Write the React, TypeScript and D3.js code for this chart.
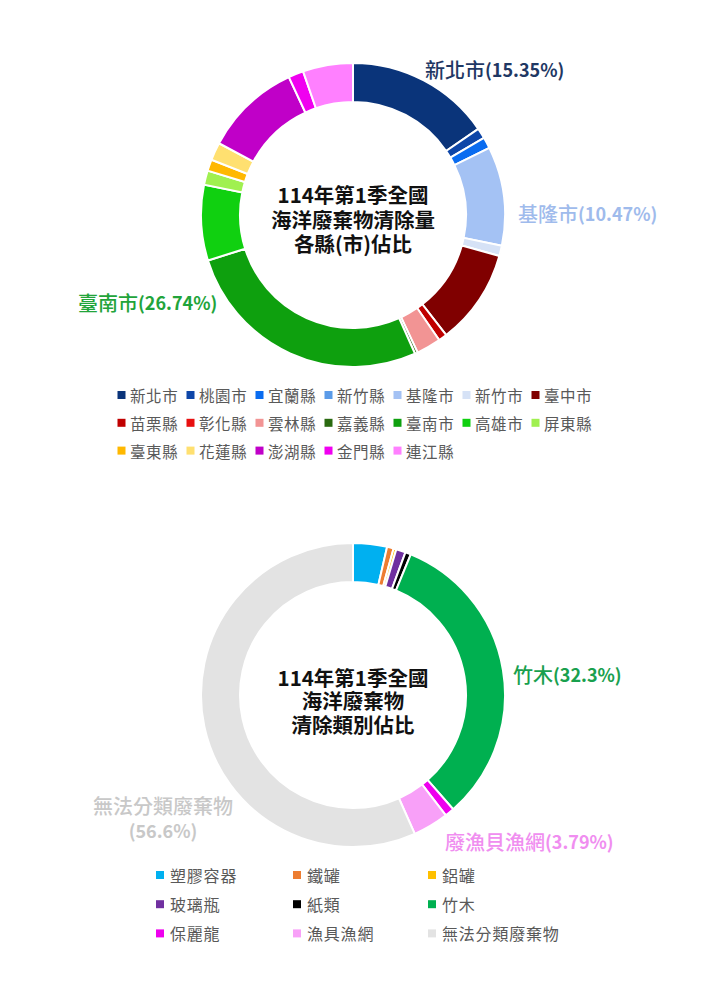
import { useRef, useEffect } from 'react';
import * as d3 from "d3"

// top donut: share of cleanup by county / city (%)
const countyNames = ["新北市","桃園市","宜蘭縣","新竹縣","基隆市","新竹市","臺中市","苗栗縣","彰化縣","雲林縣","嘉義縣","臺南市","高雄市","屏東縣","臺東縣","花蓮縣","澎湖縣","金門縣","連江縣"];
const countyValues = [15.35, 1.1, 1.2, 0, 10.47, 1.1, 10.1, 0.9, 0, 2.6, 0.3, 26.74, 8.0, 1.5, 1.2, 1.9, 10.2, 1.6, 5.3];
const countyColors = ["#0a347a","#0e46a8","#0a6cf0","#5b9be8","#a4c2f4","#d6e2f6","#800000","#c00000","#e81010","#f29494","#2a6a10","#0ea00e","#10d010","#a0f050","#ffb800","#ffe070","#c000c8","#f000f0","#ff80ff"];

// bottom donut: share by waste category (%)
const typeNames = ["塑膠容器","鐵罐","鋁罐","玻璃瓶","紙類","竹木","保麗龍","漁具漁網","無法分類廢棄物"];
const typeValues = [3.6, 0.7, 0.3, 1.0, 0.6, 32.3, 1.0, 3.79, 56.6];
const typeColors = ["#00b0f0","#ed7d31","#ffc000","#7030a0","#000000","#00b050","#ee00ee","#f8a0f8","#e3e3e3"];

const topTitle = ["114年第1季全國", "海洋廢棄物清除量", "各縣(市)佔比"];
const bottomTitle = ["114年第1季全國", "海洋廢棄物", "清除類別佔比"];

const FONT = "'Noto Sans CJK TC', 'Noto Sans', sans-serif";

type Label = { text: string, x: number, y: number, color: string };

const topLabels: Label[] = [
  { text: "新北市(15.35%)", x: 425, y: 69, color: "#1f3864" },
  { text: "基隆市(10.47%)", x: 518, y: 213, color: "#9fbbec" },
  { text: "臺南市(26.74%)", x: 78, y: 302, color: "#22a43a" },
];
const bottomLabels: Label[] = [
  { text: "竹木(32.3%)", x: 513, y: 674, color: "#19a04e" },
  { text: "廢漁貝漁網(3.79%)", x: 445, y: 841, color: "#f08ef0" },
];

// split into CJK / latin runs so digits can be bold and a bit smaller
const runs = (s: string) => {
  const out: { t: string, cjk: boolean }[] = [];
  for (const ch of s) {
    const cjk = ch.charCodeAt(0) > 255;
    if (out.length && out[out.length - 1].cjk === cjk) out[out.length - 1].t += ch;
    else out.push({ t: ch, cjk });
  }
  return out;
};

const Mixed = ({ s, cjkSize, numSize }: { s: string, cjkSize: number, numSize: number }) => (
  <>
    {runs(s).map((r, i) => r.cjk
      ? <tspan key={i} fontSize={cjkSize} fontWeight={500}>{r.t}</tspan>
      : <tspan key={i} fontSize={numSize} fontWeight={700}>{r.t}</tspan>)}
  </>
);

const Donut = ({ cx, cy, values, colors }: { cx: number, cy: number, values: number[], colors: string[] }) => {
  const ref = useRef<SVGGElement>(null);
  useEffect(() => {
    const g = d3.select(ref.current);
    g.selectAll("*").remove();
    const pie = d3.pie<number>().sort(null).value(d => d);
    const arc = d3.arc<d3.PieArcDatum<number>>().innerRadius(113).outerRadius(152);
    g.attr("transform", "translate(" + cx + "," + cy + ")");
    g.selectAll("path").data(pie(values).filter(d => d.value > 0)).enter().append("path")
      .attr("d", arc)
      .attr("fill", d => colors[d.index])
      .attr("stroke", "#fff")
      .attr("stroke-width", 2);
  }, [values]);
  return <g ref={ref} />;
};

const Title = ({ lines, y0, step }: { lines: string[], y0: number, step: number }) => (
  <g fontFamily={FONT} textAnchor="middle" fill="#111" fontSize={20.5} fontWeight={700}>
    {lines.map((l, i) => (
      <text key={i} x={353} y={y0 + i * step} dominantBaseline="central">{l}</text>
    ))}
  </g>
);

const LabelText = ({ l }: { l: Label }) => (
  <text x={l.x} y={l.y} dominantBaseline="central" fill={l.color} fontFamily={FONT}>
    <Mixed s={l.text} cjkSize={20} numSize={18} />
  </text>
);

const App = () => {
  return <div style={{ position: "absolute", left: 0, top: 0 }}>
    <svg width={707} height={1000} style={{ display: "block", background: "#fff" }}>
      <Donut cx={353} cy={215} values={countyValues} colors={countyColors} />
      <Title lines={topTitle} y0={194} step={24.7} />
      {topLabels.map(l => <LabelText key={l.text} l={l} />)}

      <g fontFamily={FONT} fontSize={15.5} fill="#595959">
        {countyNames.map((n, i) => {
          const x = 130 + (i % 7) * 69;
          const y = 395 + Math.floor(i / 7) * 27.8;
          return <g key={n}>
            <rect x={x - 12.5} y={y - 4} width={8} height={8} fill={countyColors[i]} />
            <text x={x} y={y} dominantBaseline="central" letterSpacing={0.6}>{n}</text>
          </g>;
        })}
      </g>

      <Donut cx={353} cy={695} values={typeValues} colors={typeColors} />
      <Title lines={bottomTitle} y0={677} step={23.3} />
      {bottomLabels.map(l => <LabelText key={l.text} l={l} />)}
      <g fontFamily={FONT} textAnchor="middle" fill="#c8c8c8">
        <text x={163} y={805} dominantBaseline="central"><Mixed s="無法分類廢棄物" cjkSize={20} numSize={18} /></text>
        <text x={163} y={830} dominantBaseline="central"><Mixed s="(56.6%)" cjkSize={20} numSize={18} /></text>
      </g>

      <g fontFamily={FONT} fontSize={16} fill="#595959">
        {typeNames.map((n, i) => {
          const x = [170, 307, 442][i % 3];
          const y = 875 + Math.floor(i / 3) * 29.2;
          return <g key={n}>
            <rect x={x - 14} y={y - 4} width={8} height={8} fill={typeColors[i]} />
            <text x={x} y={y} dominantBaseline="central" letterSpacing={0.8}>{n}</text>
          </g>;
        })}
      </g>
    </svg>
  </div>;
};

export default App;
